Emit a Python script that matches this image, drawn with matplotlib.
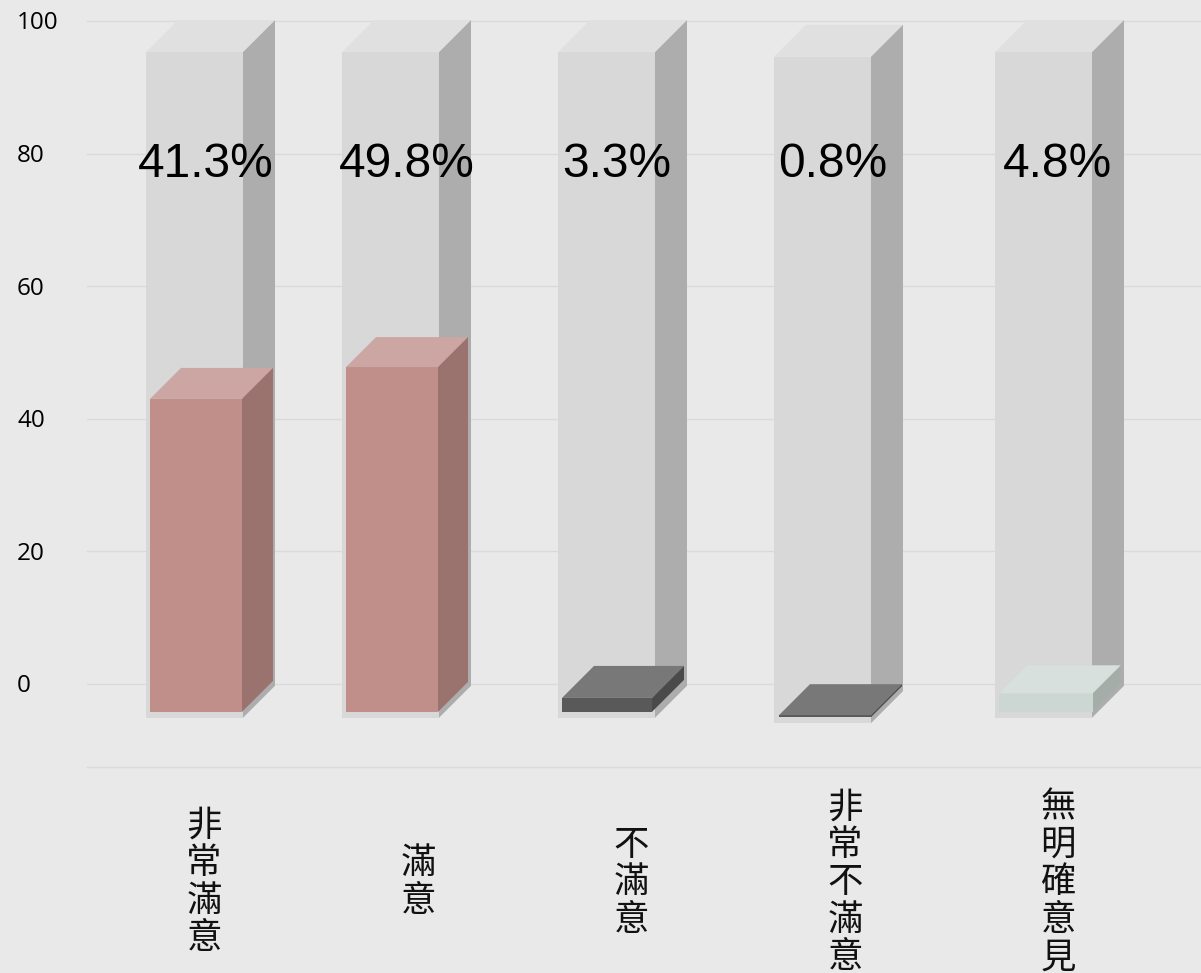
import matplotlib
matplotlib.use('Agg')
import matplotlib.pyplot as plt
from matplotlib.patches import Polygon

# Data
categories   = ['非常滿意', '滿意', '不滿意', '非常不滿意', '無明確意見']
pct_labels   = ['41.3%', '49.8%', '3.3%', '0.8%', '4.8%']
bar_top      = [43.0, 47.8, -2.1, -4.7, -1.4]
bar_base     = [-4.2, -4.2, -4.2, -5.0, -4.2]
column_top   = [95.3, 95.3, 95.3, 94.6, 95.3]
column_base  = [-5.1, -5.1, -5.1, -5.9, -5.1]
y_ticks      = [0, 20, 40, 60, 80, 100]

# Layout, in pixels of the 1201x973 canvas
column_left  = [146, 342, 558, 774, 995]
column_width = [97, 97, 97, 97, 97]
bar_left     = [150, 346, 562, 779, 999]
bar_width    = [92, 92, 90, 92, 94]
bar_depth    = [31, 30, 32, 31, 28]
pct_x        = [206, 407, 617, 833, 1057]
cat_x        = [204, 418, 631, 845, 1058]
column_depth = 32
y_zero       = 684
px_per_unit  = 6.63

bg_color   = '#E9E9E9'
grid_color = '#DADADA'
column_colors = ('#D8D8D8', '#E0E0E0', '#ADADAD')
pink_colors   = ('#C08F8A', '#CBA6A2', '#9A736F')
dark_colors   = ('#595959', '#787878', '#4A4A4A')
pale_colors   = ('#CCD6D2', '#D7E0DC', '#A5ADA9')
bar_colors    = [pink_colors, pink_colors, dark_colors, dark_colors, pale_colors]


def draw_box(ax, x0, width, y0, y1, depth, colors, zorder):
    # depth is in pixels, same distance right and up
    front, top, side = colors
    x1 = x0 + width
    dy = depth / px_per_unit
    ax.add_patch(Polygon([(x0, y0), (x1, y0), (x1, y1), (x0, y1)], fc=front, ec='none', zorder=zorder))
    ax.add_patch(Polygon([(x0, y1), (x1, y1), (x1 + depth, y1 + dy), (x0 + depth, y1 + dy)], fc=top, ec='none', zorder=zorder))
    ax.add_patch(Polygon([(x1, y0), (x1 + depth, y0 + dy), (x1 + depth, y1 + dy), (x1, y1)], fc=side, ec='none', zorder=zorder))


fig = plt.figure(figsize=(12.01, 9.73), dpi=100, facecolor=bg_color)
ax = fig.add_axes([0, 0, 1, 1])
ax.set_facecolor(bg_color)
ax.set_xlim(0, 1201)
ax.set_ylim((y_zero - 973) / px_per_unit, y_zero / px_per_unit)
ax.axis('off')

# Gridlines, the lowest one closes the plot area under the columns
for tick in y_ticks + [-12.5]:
    ax.plot([87, 1201], [tick, tick], color=grid_color, lw=1.0, zorder=1)

for tick in y_ticks:
    ax.text(17, tick - 0.35, str(tick), family='Open Sans', fontsize=17.5, color='black', ha='left', va='center', zorder=5)

for i in range(len(categories)):
    draw_box(ax, column_left[i], column_width[i], column_base[i], column_top[i], column_depth, column_colors, 2)
    draw_box(ax, bar_left[i], bar_width[i], bar_base[i], bar_top[i], bar_depth[i], bar_colors[i], 3)
    ax.text(pct_x[i], 78.3, pct_labels[i], family='Liberation Sans', fontsize=34.5, color='black', ha='center', va='center', zorder=5)

    # Stacked upright characters, centred on one line
    step = 37.5 / px_per_unit
    label = categories[i]
    for j, char in enumerate(label):
        y = -29.9 + (len(label) - 1) / 2 * step - j * step
        ax.text(cat_x[i], y, char, family='Noto Sans CJK TC', fontsize=25.5, color='#111111', ha='center', va='center', zorder=5)

fig.savefig('out.png', dpi=100, facecolor=bg_color)
